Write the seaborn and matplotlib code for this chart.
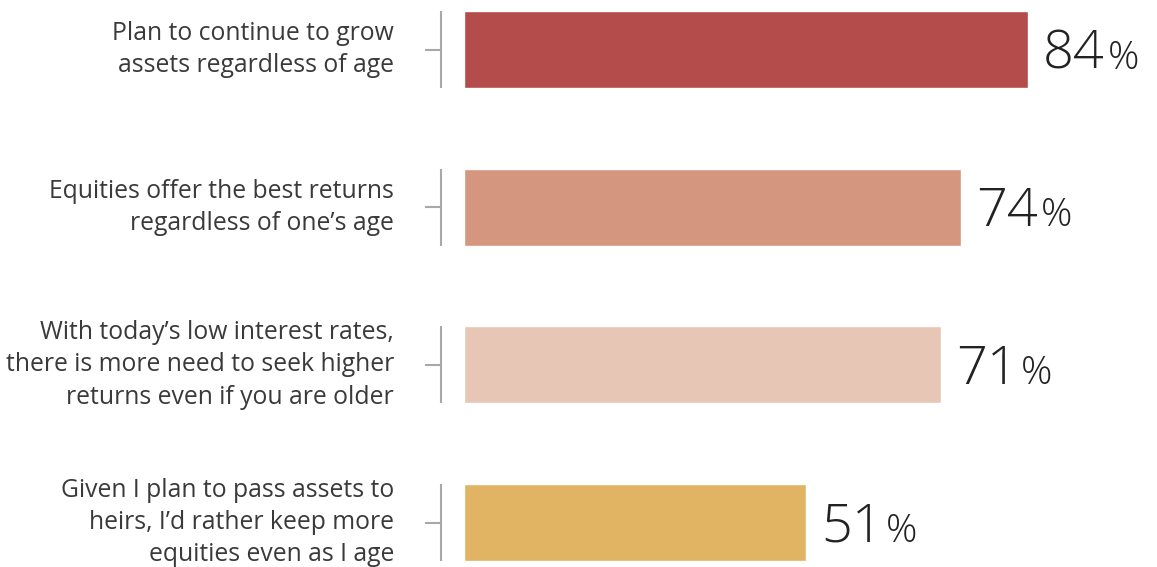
import matplotlib
matplotlib.use("Agg")
import matplotlib.pyplot as plt
import matplotlib.transforms as mtransforms
import seaborn as sns
import pandas as pd

statements = [
    "Plan to continue to grow\nassets regardless of age",
    "Equities offer the best returns\nregardless of one\u2019s age",
    "With today\u2019s low interest rates,\nthere is more need to seek higher\nreturns even if you are older",
    "Given I plan to pass assets to\nheirs, I\u2019d rather keep more\nequities even as I age",
]
shares = [84, 74, 71, 51]
bar_colors = ["#B34C4A", "#D4967F", "#E8C6B6", "#E0B462"]

sns.set_theme(style="white")
plt.rcParams["font.family"] = ["Open Sans", "DejaVu Sans"]

W, H = 1157, 567
fig = plt.figure(figsize=(W / 100, H / 100), dpi=100)
ax = fig.add_axes([464 / W, 0, 1 - 464 / W, 1])

df = pd.DataFrame({"statement": statements, "share": shares})
sns.barplot(data=df, x="share", y="statement", hue="statement",
            palette=bar_colors, order=statements, hue_order=statements,
            orient="h", width=0.49, legend=False, ax=ax, saturation=1)

ax.set_xlim(0, (W - 464) / (564 / 84))
ax.set_ylim(3.282, -0.314)
ax.set_xlabel("")
ax.set_ylabel("")
ax.set_xticks([])
ax.set_yticks([])
for s in ax.spines.values():
    s.set_visible(False)

# bracket separators and category labels to the left of the bars
blend = mtransforms.blended_transform_factory(fig.transFigure, ax.transData)
half = 0.49 / 2
text_color = "#3A3A3A"
for i, label in enumerate(statements):
    ax.plot([441 / W, 441 / W], [i - half, i + half], color="#A8A8A8", lw=1.5,
            transform=blend, clip_on=False, solid_capstyle="butt")
    ax.plot([425 / W, 441 / W], [i, i], color="#A8A8A8", lw=1.5,
            transform=blend, clip_on=False, solid_capstyle="butt")
    ax.text(394 / W, i, label, transform=blend, ha="right", va="center",
            fontsize=17.8, color=text_color, linespacing=1.38, fontweight="normal")

# value annotations: large number followed by a smaller percent sign
fig.canvas.draw()
renderer = fig.canvas.get_renderer()
for i, v in enumerate(shares):
    t = ax.annotate(f"{v}", xy=(v, i), xytext=(15, -19), textcoords="offset pixels",
                    ha="left", va="baseline", fontsize=39, color="#222222",
                    fontweight="light")
    bb = t.get_window_extent(renderer)
    bx, by = ax.transData.transform((v, i))
    ax.annotate("%", xy=(bb.x1 + 3, by - 19), xycoords="figure pixels",
                ha="left", va="baseline", fontsize=28, color="#222222",
                fontweight="light")

fig.savefig("out.png", dpi=100)
